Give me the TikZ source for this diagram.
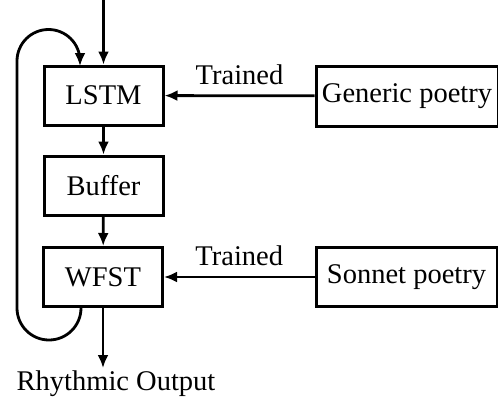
\documentclass[tikz,border=0pt]{standalone}
\usepackage{fontspec}
\setmainfont{Liberation Serif}
\usetikzlibrary{arrows.meta}
\begin{document}
\begin{tikzpicture}[x=1pt,y=1pt,
 box/.style={draw, line width=3pt, inner sep=0pt, font=\fontsize{28.5}{33}\selectfont},
 lbl/.style={inner sep=0pt, font=\fontsize{28.5}{33}\selectfont},
 arr/.style={line width=2.8pt, -{Latex[length=13pt,width=11pt]}},
 ]
\useasboundingbox (0,0) rectangle (498,-407);
\node[box, minimum width=119pt, minimum height=59pt] (lstm) at (103.5,-95.5) {LSTM};
\node[box, minimum width=119pt, minimum height=59pt] (buffer) at (103.5,-185.5) {Buffer};
\node[box, minimum width=119pt, minimum height=59pt] (wfst) at (103,-277) {WFST};
\node[box, minimum width=182pt, minimum height=60pt] (generic) at (407,-96) {Generic poetry};
\node[box, minimum width=181pt, minimum height=59pt] (sonnet) at (406.5,-277) {Sonnet poetry};
\node[lbl] (out) at (116,-384) {Rhythmic Output};
\coordinate (in) at (103.5,0);
\coordinate (outend) at (103,-368);
\draw[arr] (in) -- (lstm);
\draw[arr] (lstm) -- (buffer);
\draw[arr] (buffer) -- (wfst);
\draw[arr] (wfst) -- (outend);
\draw[arr] (generic) -- node[lbl, above=10pt] (t1) {Trained} (lstm);
\draw[arr] (sonnet) -- node[lbl, above=10pt] (t2) {Trained} (wfst);
\coordinate (loopstart) at (81,-306);
\coordinate (loopend) at (80,-66);
\draw[arr] (loopstart) -- (81,-308) arc (0:-180:32) -- (17,-61) arc (180:0:31.5) -- (loopend);
\end{tikzpicture}
\end{document}
